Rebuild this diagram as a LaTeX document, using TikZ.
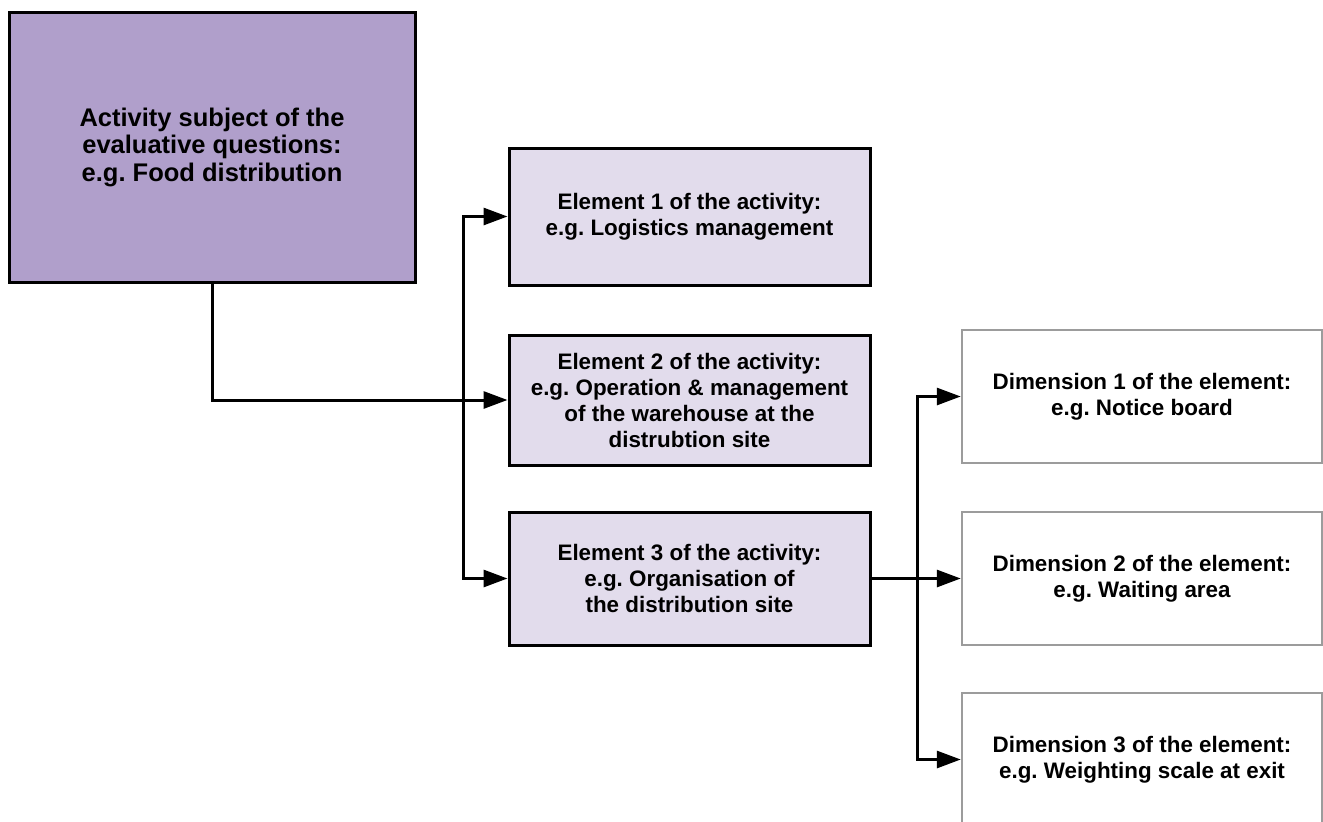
\documentclass[tikz,border=0pt]{standalone}
\usepackage{fontspec}
\setmainfont{Liberation Sans}
\frenchspacing
\definecolor{activityFill}{HTML}{B09FCB}
\definecolor{elementFill}{HTML}{E2DCEC}
\definecolor{dimBorder}{HTML}{9C9C9C}
\usetikzlibrary{arrows.meta, positioning}

\begin{document}
\begin{tikzpicture}[
    x=1pt, y=-1pt,
    box/.style={rectangle, align=center, inner sep=0pt, font=\bfseries},
    activity/.style={box, draw=black, line width=3pt, fill=activityFill,
      minimum width=406pt, minimum height=270pt, font=\fontsize{25.5}{27.5}\selectfont\bfseries},
    element/.style={box, draw=black, line width=3pt, fill=elementFill,
      minimum width=361pt, font=\fontsize{22.4}{26}\selectfont\bfseries},
    dimension/.style={box, draw=dimBorder, line width=2.5pt, fill=white,
      minimum width=360pt, minimum height=133pt, font=\fontsize{22.4}{26}\selectfont\bfseries},
    link/.style={draw=black, line width=3pt},
    arr/.style={link, -{Triangle[length=24pt, width=17pt]}}
  ]
    \clip (0,0) rectangle (1323,822);

    % Activity block
    \node[activity] (act) at (212,147) {Activity subject of the\\evaluative questions:\\e.g. Food distribution};

    % Elements of the activity
    \node[element, minimum height=137pt] (elem1) at (689.5,216.5) {Element 1 of the activity:\\e.g. Logistics management};
    \node[element, minimum height=130pt] (elem2) at (689.5,400) {Element 2 of the activity:\\e.g. Operation \& management\\of the warehouse at the\\distrubtion site};
    \node[element, minimum height=133pt] (elem3) at (689.5,578.5) {Element 3 of the activity:\\e.g. Organisation of\\the distribution site};

    % Dimensions of the element
    \node[dimension] (dim1) at (1142,396.5) {Dimension 1 of the element:\\e.g. Notice board};
    \node[dimension] (dim2) at (1142,578.5) {Dimension 2 of the element:\\e.g. Waiting area};
    \node[dimension] (dim3) at (1142,759.5) {Dimension 3 of the element:\\e.g. Weighting scale at exit};

    \coordinate (forkE) at (463,0);
    \coordinate (forkD) at (917,0);

    % Connectors
    \draw[arr] (act.south) |- (elem2.west);
    \draw[arr] (forkE |- elem3.west) |- (elem1.west);
    \draw[arr] (forkE |- elem1.west) |- (elem3.west);
    \draw[arr] (elem3.east) -- (dim2.west);
    \draw[arr] (forkD |- dim3.west) |- (dim1.west);
    \draw[arr] (forkD |- dim1.west) |- (dim3.west);
\end{tikzpicture}
\end{document}
